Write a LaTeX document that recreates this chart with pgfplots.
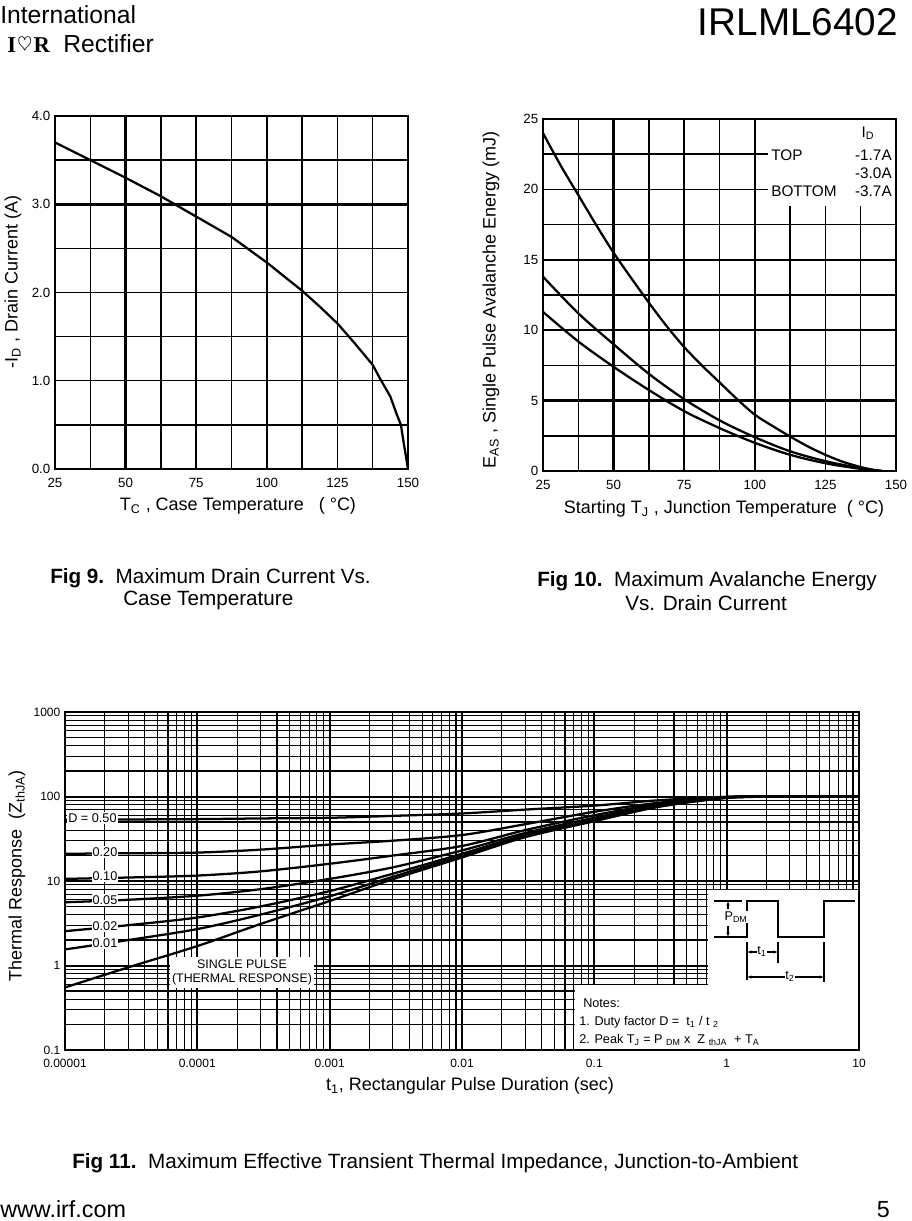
\documentclass[border=0pt]{standalone}
\usepackage{fontspec}
\setmainfont{Liberation Sans}
\newfontfamily\logofont{Liberation Serif}
\usepackage{pgfplots}
\pgfplotsset{compat=1.18}
\usetikzlibrary{arrows.meta}
\newcommand{\sz}[1]{\fontsize{#1}{#1}\selectfont}

\pgfplotsset{
  sheet/.style={
    scale only axis, set layers, anchor=north west,
    axis line style={line width=2.2pt, line cap=rect},
    major tick length=0pt, minor tick length=0pt,
    grid=both,
    major grid style={line width=1.1pt, black},
    minor grid style={line width=1.1pt, black},
    /pgf/number format/assume math mode=true,
  },
  crv/.style={black, line width=1.7pt, no markers},
}

\begin{document}
\begin{tikzpicture}
% page frame, 1px = 0.75pt
\begin{scope}[x=0.75pt,y=-0.75pt]
  \path[use as bounding box] (0,0) rectangle (908,1221);
\end{scope}

% ---------- Fig 9 ----------
\begin{axis}[sheet, at={(41.25pt,-87pt)}, width=264.75pt, height=264.75pt,
  xmin=25, xmax=150, ymin=0, ymax=4,
  xtick={25,50,...,150}, minor x tick num=1,
  ytick={0,1,2,3,4}, minor y tick num=1,
  tick label style={font=\sz{10}},
  xticklabel style={text height=7.5pt, text depth=0pt, yshift=-3pt},
  yticklabel style={/pgf/number format/fixed, /pgf/number format/fixed zerofill, /pgf/number format/precision=1},
  extra x ticks={50,100}, extra x tick labels={},
  extra y ticks={3}, extra y tick labels={},
  extra tick style={grid=major, major grid style={line width=1.9pt, black}},
]
\addplot[crv] coordinates {(25,3.70) (30,3.62) (37.5,3.50) (50,3.30) (62.5,3.09) (75,2.86)
  (87.5,2.63) (100,2.34) (112.5,2.02) (118.75,1.84) (125,1.65) (131.25,1.42)
  (137.5,1.18) (140,1.03) (143.75,0.82) (146,0.62) (147.5,0.50) (148.2,0.35) (150,0.0)};
\end{axis}

% ---------- Fig 10 ----------
\begin{axis}[sheet, at={(407.25pt,-89.25pt)}, width=264.75pt, height=264pt,
  xmin=25, xmax=150, ymin=0, ymax=25,
  xtick={25,50,...,150}, minor x tick num=1,
  ytick={0,5,...,25}, minor y tick num=1,
  tick label style={font=\sz{10}},
  xticklabel style={text height=7.5pt, text depth=0pt, yshift=-3pt},
  extra x ticks={50,100}, extra x tick labels={},
  extra y ticks={5,15}, extra y tick labels={},
  extra tick style={grid=major, major grid style={line width=1.9pt, black}},
]
\begin{pgfonlayer}{axis ticks}
\fill[white] (axis cs:104.5,18.8) rectangle (axis cs:152,27);
\end{pgfonlayer}
% ID = -1.7 A
\addplot[crv, smooth] coordinates {(25,24.0) (31.25,21.7) (37.5,19.6) (43.75,17.5) (50,15.5)
  (56.25,13.7) (62.5,11.95) (68.75,10.3) (75,8.8) (81.25,7.5) (87.5,6.3) (93.75,5.1)
  (100,4.0) (106.25,3.2) (112.5,2.45) (118.75,1.75) (125,1.15) (131.25,0.65)
  (137.5,0.28) (142,0.08) (145,0)};
% ID = -3.0 A
\addplot[crv, smooth] coordinates {(25,13.8) (37.5,11.2) (50,9.0) (62.5,6.9) (75,5.1)
  (87.5,3.6) (100,2.4) (112.5,1.4) (125,0.7) (137.5,0.2) (145,0)};
% ID = -3.7 A
\addplot[crv, smooth] coordinates {(25,11.3) (37.5,9.2) (50,7.4) (62.5,5.75) (75,4.25)
  (87.5,3.05) (100,2.0) (112.5,1.15) (125,0.55) (137.5,0.15) (145,0)};
\end{axis}

% ---------- Fig 11 ----------
\begin{axis}[sheet, at={(48.75pt,-534pt)}, width=595.5pt, height=253.5pt,
  xmode=log, ymode=log,
  xmin=1e-5, xmax=10, ymin=0.1, ymax=1000,
  xtick={1e-5,1e-4,1e-3,1e-2,1e-1,1,10},
  xticklabels={0.00001,0.0001,0.001,0.01,0.1,1,10},
  ytick={0.1,1,10,100,1000},
  yticklabels={0.1,1,10,100,1000},
  minor xtick={2e-5,3e-5,4e-5,5e-5,6e-5,7e-5,8e-5,9e-5,
    2e-4,3e-4,4e-4,5e-4,6e-4,7e-4,8e-4,9e-4,
    2e-3,3e-3,4e-3,5e-3,6e-3,7e-3,8e-3,9e-3,
    2e-2,3e-2,4e-2,5e-2,6e-2,7e-2,8e-2,9e-2,
    0.2,0.3,0.4,0.5,0.6,0.7,0.8,0.9,2,3,4,5,6,7,8,9},
  minor ytick={0.2,0.3,0.4,0.5,0.6,0.7,0.8,0.9,2,3,4,5,6,7,8,9,
    20,30,40,50,60,70,80,90,200,300,400,500,600,700,800,900},
  tick label style={font=\sz{9}},
  xticklabel style={text height=6.5pt, text depth=0pt, yshift=-3pt},
  major grid style={line width=1.5pt, black},
  minor grid style={line width=0.9pt, black},
]
\begin{pgfonlayer}{axis ticks}
\fill[white] (axis cs:0.0714,0.05) -- (axis cs:0.0714,0.587) -- (axis cs:0.722,0.587)
  -- (axis cs:0.722,7.83) -- (axis cs:20,7.83) -- (axis cs:20,0.05) -- cycle;
\end{pgfonlayer}
% D = 0.50
\addplot[crv, smooth] coordinates {(1e-5,53) (3e-5,53.5) (1e-4,54) (3e-4,55) (1e-3,56)
  (3e-3,59) (1e-2,63) (3e-2,70) (0.1,78) (0.3,90) (1,99) (3,100) (10,100)};
% D = 0.20
\addplot[crv, smooth] coordinates {(1e-5,21) (3e-5,21.3) (1e-4,21.7) (3e-4,23.5) (1e-3,27)
  (3e-3,30) (1e-2,35) (3e-2,47) (0.1,66) (0.3,84) (1,99) (3,100) (10,100)};
% D = 0.10
\addplot[crv, smooth] coordinates {(1e-5,10.6) (3e-5,11.0) (1e-4,11.6) (3e-4,13.0) (1e-3,16)
  (3e-3,20) (1e-2,26) (3e-2,40) (0.1,60) (0.3,81) (1,98) (3,100) (10,100)};
% D = 0.05
\addplot[crv, smooth] coordinates {(1e-5,5.6) (3e-5,6.0) (1e-4,6.7) (3e-4,8.0) (1e-3,10.6)
  (3e-3,14.5) (1e-2,23) (3e-2,37) (0.1,56) (0.3,79) (1,98) (3,100) (10,100)};
% D = 0.02
\addplot[crv, smooth] coordinates {(1e-5,2.55) (3e-5,3.0) (1e-4,3.7) (3e-4,5.0) (1e-3,7.6)
  (3e-3,12.2) (1e-2,21) (3e-2,35) (0.1,53) (0.3,77) (1,97) (3,100) (10,100)};
% D = 0.01
\addplot[crv, smooth] coordinates {(1e-5,1.55) (3e-5,2.0) (1e-4,2.7) (3e-4,4.0) (1e-3,6.6)
  (3e-3,11.2) (1e-2,20) (3e-2,34) (0.1,52) (0.3,76) (1,97) (3,100) (10,100)};
% single pulse
\addplot[crv, smooth] coordinates {(1e-5,0.55) (3e-5,0.95) (1e-4,1.7) (3e-4,3.1) (1e-3,5.8)
  (3e-3,10.5) (1e-2,19) (3e-2,33) (0.1,51) (0.3,75) (1,96) (3,100) (10,100)};
\end{axis}

\begin{scope}[x=0.75pt,y=-0.75pt]
  % header
  \node[anchor=base west, font=\sz{18.5}, inner sep=0] at (0,23) {International};
  \node[anchor=base west, font=\logofont\bfseries\sz{17}, inner sep=0] at (7,52) {I\hspace{1pt}\raisebox{1pt}{\sz{15}$\heartsuit$}\hspace{1pt}R};
  \node[anchor=base west, font=\sz{18.5}, inner sep=0] at (63,52) {Rectifier};
  \node[anchor=base east, font=\sz{29}, inner sep=0] at (898,35) {IRLML6402};

  % Fig 9 labels
  \node[rotate=90, font=\sz{13.5}] at (13,282) {-I\textsubscript{D} , Drain Current (A)};
  \node[font=\sz{13.5}] at (238,506) {T\textsubscript{C} , Case Temperature \ \ ( °C)};
  \node[anchor=base west, font=\sz{15.5}, inner sep=0] at (50,583) {\textbf{Fig 9.}\ \ Maximum Drain Current Vs.};
  \node[anchor=base west, font=\sz{15.5}, inner sep=0] at (123,605) {Case Temperature};

  % Fig 10 labels
  \node[rotate=90, font=\sz{13.5}] at (491,300) {E\textsubscript{AS} , Single Pulse Avalanche Energy (mJ)};
  \node[font=\sz{13.5}] at (724,509) {Starting T\textsubscript{J} , Junction Temperature \ ( °C)};
  \node[font=\sz{11.5}] at (868,133) {I\textsubscript{D}};
  \node[anchor=west, font=\sz{11.5}, inner sep=0] at (771,155) {TOP};
  \node[anchor=east, font=\sz{11.5}, inner sep=0] at (892,155) {-1.7A};
  \node[anchor=east, font=\sz{11.5}, inner sep=0] at (892,173) {-3.0A};
  \node[anchor=west, font=\sz{11.5}, inner sep=0] at (771,191) {BOTTOM};
  \node[anchor=east, font=\sz{11.5}, inner sep=0] at (892,191) {-3.7A};
  \node[anchor=base west, font=\sz{15.5}, inner sep=0] at (537,586) {\textbf{Fig 10.}\ \ Maximum Avalanche Energy};
  \node[anchor=base west, font=\sz{15.5}, inner sep=0] at (625,610) {Vs. Drain Current};

  % Fig 11 labels
  \node[rotate=90, font=\sz{13.5}] at (17,876) {Thermal Response \ (Z\textsubscript{thJA})};
  \node[font=\sz{13.5}] at (470,1086) {t\textsubscript{1}, Rectangular Pulse Duration (sec)};
  \node[anchor=west, fill=white, inner sep=0.8pt, font=\sz{9.5}] at (67,818) {D = 0.50};
  \node[fill=white, inner sep=0.8pt, font=\sz{9.5}] at (105,852) {0.20};
  \node[fill=white, inner sep=0.8pt, font=\sz{9.5}] at (105,876) {0.10};
  \node[fill=white, inner sep=0.8pt, font=\sz{9.5}] at (105,900) {0.05};
  \node[fill=white, inner sep=0.8pt, font=\sz{9.5}] at (105,926) {0.02};
  \node[fill=white, inner sep=0.8pt, font=\sz{9.5}] at (105,943) {0.01};
  \fill[white] (170,957) rectangle (314,988);
  \node[align=center, font=\fontsize{9.3}{10.5}\selectfont] at (242,972) {SINGLE PULSE\\(THERMAL RESPONSE)};

  % pulse diagram
  \draw[line width=1.6pt] (714,937) -- (747,937) -- (747,901) -- (778,901) -- (778,937)
    -- (824,937) -- (824,901) -- (855,901);
  \draw[line width=0.8pt] (714,901) -- (742,901);
  \draw[line width=0.8pt, -{Stealth[length=3pt]}] (728,909) -- (728,901.5);
  \draw[line width=0.8pt, -{Stealth[length=3pt]}] (728,926) -- (728,936.5);
  \node[font=\sz{9.5}, fill=white, inner sep=0.3pt] at (736,917) {P\textsubscript{DM}};
  \draw[line width=1.1pt] (747,942) -- (747,980);
  \draw[line width=1.1pt] (778,942) -- (778,963);
  \draw[line width=1.1pt] (824,942) -- (824,982);
  \draw[line width=0.8pt, {Stealth[length=3pt]}-{Stealth[length=3pt]}] (747.5,952) -- (777.5,952);
  \node[font=\sz{9.5}, fill=white, inner sep=0.5pt] at (762,951) {t\textsubscript{1}};
  \draw[line width=0.8pt, {Stealth[length=3pt]}-{Stealth[length=3pt]}] (747.5,977) -- (823.5,977);
  \node[font=\sz{9.5}, fill=white, inner sep=0.5pt] at (790,976) {t\textsubscript{2}};

  % notes
  \node[anchor=west, font=\sz{9.5}, inner sep=0] at (583,1003) {Notes:};
  \node[anchor=west, font=\sz{9.5}, inner sep=0] at (579,1022) {1. Duty factor D = \ t\textsubscript{1} / t \textsubscript{2}};
  \node[anchor=west, font=\sz{9.5}, inner sep=0] at (579,1040) {2. Peak T\textsubscript{J} = P \textsubscript{DM} x \ Z \textsubscript{thJA} \ + T\textsubscript{A}};

  \node[anchor=base west, font=\sz{15.5}, inner sep=0] at (72,1168) {\textbf{Fig 11.}\ \ Maximum Effective Transient Thermal Impedance, Junction-to-Ambient};

  % footer
  \node[anchor=base west, font=\sz{17.5}, inner sep=0] at (0,1217) {www.irf.com};
  \node[anchor=base east, font=\sz{17.5}, inner sep=0] at (890,1217) {5};
\end{scope}
\end{tikzpicture}
\end{document}
